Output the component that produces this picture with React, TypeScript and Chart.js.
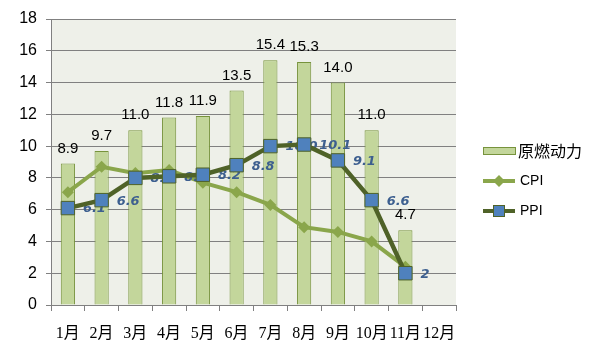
import React, { useEffect, useRef } from "react";
import { Chart, registerables } from "chart.js";

Chart.register(...registerables);

const categories = ["1月", "2月", "3月", "4月", "5月", "6月", "7月", "8月", "9月", "10月", "11月", "12月"];
const fuelValues = [8.9, 9.7, 11.0, 11.8, 11.9, 13.5, 15.4, 15.3, 14.0, 11.0, 4.7, null];
const cpiValues = [7.1, 8.7, 8.3, 8.5, 7.7, 7.1, 6.3, 4.9, 4.6, 4.0, 2.4, null];
const ppiValues = [6.1, 6.6, 8.0, 8.1, 8.2, 8.8, 10.0, 10.1, 9.1, 6.6, 2.0, null];
const ppiLabels = ["6.1", "6.6", "8.0", "8.1", "8.2", "8.8", "10.0", "10.1", "9.1", "6.6", "2", ""];
const seriesNames = ["原燃动力", "CPI", "PPI"];
const yTicks = [0, 2, 4, 6, 8, 10, 12, 14, 16, 18];

const BAR_FILL = "#c3d69b";
const BAR_BORDER = "#77933c";
const CPI_COLOR = "#8aa64b";
const PPI_COLOR = "#4f6228";
const MARKER_FILL = "#4f81bd";
const GRID = "#808080";
const PLOT_BG = "#eef0e9";

export default function App() {
  const ref = useRef<HTMLCanvasElement | null>(null);

  useEffect(() => {
    document.body.style.margin = "0";
    const canvas = ref.current;
    if (!canvas) return;

    const decor = {
      id: "decor",
      beforeDraw(chart: any) {
        const { ctx, chartArea } = chart;
        ctx.save();
        ctx.fillStyle = "#ffffff";
        ctx.fillRect(0, 0, chart.width, chart.height);
        ctx.fillStyle = PLOT_BG;
        ctx.fillRect(chartArea.left, chartArea.top, chartArea.right - chartArea.left, chartArea.bottom - chartArea.top);
        ctx.restore();
      },
      beforeDatasetDraw(chart: any, args: any) {
        if (args.index !== 2) return;
        const { ctx } = chart;
        const meta = chart.getDatasetMeta(2);
        ctx.save();
        ctx.font = "italic bold 13px 'DejaVu Sans'";
        ctx.fillStyle = "#3d5f8f";
        ctx.textAlign = "left";
        ctx.textBaseline = "middle";
        meta.data.forEach((pt: any, i: number) => {
          if (ppiValues[i] == null) return;
          ctx.fillText(ppiLabels[i], pt.x + 15, pt.y + 1);
        });
        ctx.restore();
      },
      afterDatasetsDraw(chart: any) {
        const { ctx } = chart;
        const meta = chart.getDatasetMeta(0);
        ctx.save();
        ctx.font = "15px 'Liberation Sans'";
        ctx.fillStyle = "#000000";
        ctx.textAlign = "center";
        ctx.textBaseline = "alphabetic";
        meta.data.forEach((bar: any, i: number) => {
          const v = fuelValues[i];
          if (v == null) return;
          ctx.fillText(v.toFixed(1), bar.x, bar.y - 11);
        });
        ctx.restore();
      },
      afterDraw(chart: any) {
        const { ctx } = chart;
        ctx.save();
        const x0 = 483;
        const x1 = 515;
        const xm = (x0 + x1) / 2;
        ctx.font = "16px 'Noto Sans CJK SC'";
        ctx.textAlign = "left";
        ctx.textBaseline = "middle";
        // bar swatch
        ctx.fillStyle = BAR_FILL;
        ctx.fillRect(x0, 147, x1 - x0, 7);
        ctx.strokeStyle = BAR_BORDER;
        ctx.lineWidth = 1;
        ctx.strokeRect(x0 + 0.5, 147.5, x1 - x0, 7);
        ctx.fillStyle = "#000000";
        ctx.fillText(seriesNames[0], 518, 151);
        // CPI
        ctx.strokeStyle = CPI_COLOR;
        ctx.lineWidth = 4;
        ctx.beginPath();
        ctx.moveTo(x0, 181);
        ctx.lineTo(x1, 181);
        ctx.stroke();
        ctx.fillStyle = CPI_COLOR;
        ctx.beginPath();
        ctx.moveTo(xm, 175);
        ctx.lineTo(xm + 6, 181);
        ctx.lineTo(xm, 187);
        ctx.lineTo(xm - 6, 181);
        ctx.closePath();
        ctx.fill();
        ctx.font = "14px 'Liberation Sans'";
        ctx.fillStyle = "#000000";
        ctx.fillText(seriesNames[1], 520, 181);
        // PPI
        ctx.strokeStyle = PPI_COLOR;
        ctx.lineWidth = 4;
        ctx.beginPath();
        ctx.moveTo(x0, 211);
        ctx.lineTo(x1, 211);
        ctx.stroke();
        ctx.fillStyle = MARKER_FILL;
        ctx.fillRect(xm - 6, 205, 12, 12);
        ctx.strokeStyle = PPI_COLOR;
        ctx.lineWidth = 1;
        ctx.strokeRect(xm - 5.5, 205.5, 11, 11);
        ctx.fillStyle = "#000000";
        ctx.fillText(seriesNames[2], 520, 211);
        ctx.restore();
      },
    };

    const chart = new Chart(canvas, {
      type: "bar",
      data: {
        labels: categories,
        datasets: [
          {
            type: "bar",
            label: seriesNames[0],
            data: fuelValues as any,
            backgroundColor: BAR_FILL,
            borderColor: BAR_BORDER,
            borderWidth: 1,
            categoryPercentage: 1,
            barPercentage: 0.42,
            order: 3,
          },
          {
            type: "line",
            label: seriesNames[1],
            data: cpiValues as any,
            borderColor: CPI_COLOR,
            backgroundColor: CPI_COLOR,
            borderWidth: 4,
            pointStyle: "rectRot",
            pointRadius: 6,
            pointBorderWidth: 0,
            pointBackgroundColor: CPI_COLOR,
            tension: 0,
            order: 2,
          },
          {
            type: "line",
            label: seriesNames[2],
            data: ppiValues as any,
            borderColor: PPI_COLOR,
            backgroundColor: MARKER_FILL,
            borderWidth: 4.5,
            pointStyle: "rect",
            pointRadius: 9.5,
            pointBorderWidth: 1,
            pointBorderColor: PPI_COLOR,
            pointBackgroundColor: MARKER_FILL,
            tension: 0,
            order: 1,
          },
        ],
      },
      options: {
        animation: false,
        responsive: false,
        maintainAspectRatio: false,
        layout: { padding: { top: 19, right: 146, left: 0, bottom: 0 } },
        plugins: {
          legend: { display: false },
          tooltip: { enabled: false },
        },
        scales: {
          x: {
            grid: {
              display: true,
              drawOnChartArea: false,
              drawTicks: true,
              tickLength: 6,
              color: GRID,
              offset: true,
            },
            border: { display: true, color: GRID },
            ticks: {
              color: "#000000",
              font: { family: "'Liberation Serif', 'Noto Sans CJK SC'", size: 16 },
              padding: 13,
              maxRotation: 0,
              autoSkip: false,
            },
            afterFit(scale: any) {
              scale.height = 57;
            },
          },
          y: {
            min: 0,
            max: 18,
            afterBuildTicks(scale: any) {
              scale.ticks = yTicks.map((v) => ({ value: v }));
            },
            grid: {
              color: GRID,
              drawTicks: true,
              tickLength: 5,
            },
            border: { display: true, color: GRID },
            ticks: {
              color: "#000000",
              font: { family: "'Liberation Sans'", size: 16 },
              padding: 9,
            },
            afterFit(scale: any) {
              scale.width = 51;
            },
          },
        },
      },
      plugins: [decor],
    });

    return () => chart.destroy();
  }, []);

  return (
    <div style={{ width: 602, height: 362, overflow: "hidden" }}>
      <canvas ref={ref} width={602} height={362} style={{ display: "block", width: 602, height: 362 }} />
    </div>
  );
}
